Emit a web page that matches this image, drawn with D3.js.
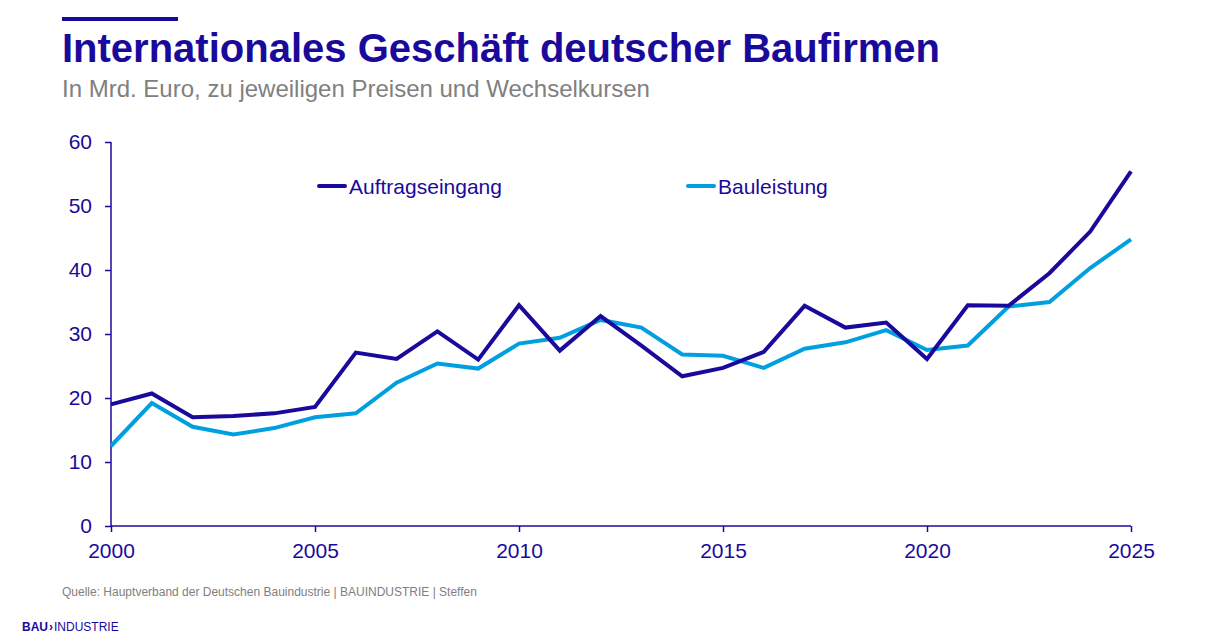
<!DOCTYPE html>
<html><head><meta charset="utf-8">
<script src="https://cdn.jsdelivr.net/npm/d3@7"></script>
<style>
body{margin:0;background:#fff;}
svg{display:block;font-family:"Liberation Sans",Arial,sans-serif;}
</style></head><body>
<svg id="c" width="1213" height="643"></svg>
<script>
const years = d3.range(2000, 2026);
const auftragseingang = [19.0,20.7,17.0,17.2,17.6,18.6,27.1,26.1,30.4,26.0,34.5,27.4,32.8,28.2,23.4,24.7,27.2,34.4,31.0,31.8,26.1,34.5,34.4,39.5,46.0,55.4];
const bauleistung = [12.5,19.2,15.5,14.3,15.3,17.0,17.6,22.4,25.4,24.6,28.5,29.4,32.2,31.0,26.8,26.6,24.7,27.7,28.7,30.6,27.5,28.2,34.3,35.0,40.3,44.8];
const yTicks = [0,10,20,30,40,50,60];
const xTicks = [2000,2005,2010,2015,2020,2025];
const seriesNames = ["Auftragseingang","Bauleistung"];

const DARK="#1a0a9c", LIGHT="#00a0e0", GRAY="#808080";
const svg=d3.select("#c");

// header
svg.append("rect").attr("x",62).attr("y",17).attr("width",116).attr("height",4).attr("fill",DARK);
svg.append("text").attr("x",62).attr("y",62).attr("fill",DARK).attr("font-weight","bold").attr("font-size",40).text("Internationales Geschäft deutscher Baufirmen");
svg.append("text").attr("x",62).attr("y",97).attr("fill",GRAY).attr("font-size",24).text("In Mrd. Euro, zu jeweiligen Preisen und Wechselkursen");

const x=d3.scaleLinear().domain([2000,2025]).range([111,1131]);
const y=d3.scaleLinear().domain([0,60]).range([526,142]);

const yAxis=svg.append("g").attr("transform","translate(111,0)")
 .call(d3.axisLeft(y).tickValues(yTicks).tickSize(6).tickPadding(13));
const xAxis=svg.append("g").attr("transform","translate(0,526)")
 .call(d3.axisBottom(x).tickValues(xTicks).tickFormat(d3.format("d")).tickSize(6).tickPadding(11));
[yAxis,xAxis].forEach(g=>{
  g.selectAll("path,line").attr("stroke",DARK).attr("stroke-width",1.5);
  g.selectAll("text").attr("fill",DARK).attr("font-size",21).attr("font-family","Liberation Sans, Arial, sans-serif");
});
yAxis.select(".domain").attr("d","M0,142V526");
xAxis.select(".domain").attr("d","M111,0H1131");

const line=d3.line().x((d,i)=>x(years[i])).y(d=>y(d));
svg.append("path").datum(bauleistung).attr("d",line).attr("fill","none").attr("stroke",LIGHT).attr("stroke-width",4).attr("stroke-linejoin","miter");
svg.append("path").datum(auftragseingang).attr("d",line).attr("fill","none").attr("stroke",DARK).attr("stroke-width",4).attr("stroke-linejoin","miter");

// legend
const leg=[{n:seriesNames[0],c:DARK,x:319},{n:seriesNames[1],c:LIGHT,x:688}];
leg.forEach(l=>{
  svg.append("line").attr("x1",l.x).attr("x2",l.x+26).attr("y1",186).attr("y2",186).attr("stroke",l.c).attr("stroke-width",4).attr("stroke-linecap","round");
  svg.append("text").attr("x",l.x+30).attr("y",193.5).attr("fill",DARK).attr("font-size",21).text(l.n);
});

// footer
svg.append("text").attr("x",62).attr("y",596).attr("fill",GRAY).attr("font-size",12).text("Quelle: Hauptverband der Deutschen Bauindustrie | BAUINDUSTRIE | Steffen");
const logo=svg.append("text").attr("x",22).attr("y",631).attr("fill",DARK).attr("font-size",12);
logo.append("tspan").attr("font-weight","bold").text("BAU");
logo.append("tspan").attr("font-weight","bold").attr("dx",1).text("›");
logo.append("tspan").attr("dx",1).text("INDUSTRIE");
</script>
</body></html>
